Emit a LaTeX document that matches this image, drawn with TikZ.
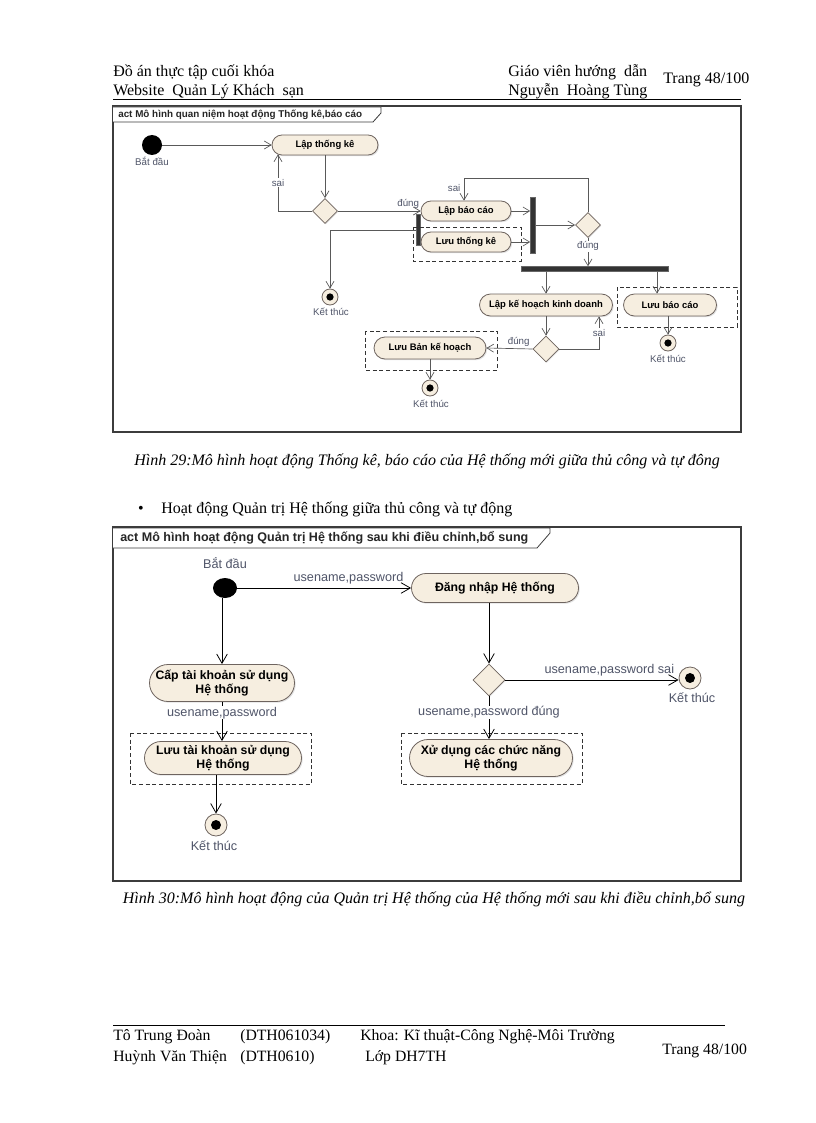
\documentclass[tikz,border=0pt]{standalone}
\usepackage{fontspec}
\setmainfont{Liberation Serif}
\newfontfamily\dfont{Liberation Sans}
\usetikzlibrary{arrows.meta,shapes.misc,shapes.geometric,shadows,calc}
\definecolor{pillfill}{RGB}{246,238,224}
\definecolor{pilldraw}{RGB}{110,100,95}
\definecolor{lblc}{RGB}{80,85,105}
\definecolor{framec}{RGB}{60,60,60}
\begin{document}
\begin{tikzpicture}[x=0.75pt,y=-0.75pt,
  hdr/.style={font=\fontsize{12}{14}\selectfont, inner sep=0pt, anchor=base west},
  ftr/.style={font=\fontsize{11.8}{14}\selectfont, inner sep=0pt, anchor=base west},
  pill/.style 2 args={rounded rectangle, draw=pilldraw, fill=pillfill, line width=0.6pt,
    minimum width=#1*0.75pt, minimum height=#2*0.75pt, inner sep=0pt, align=center,
    drop shadow={shadow xshift=0.9pt, shadow yshift=-0.9pt, fill=gray!45}},
  pa/.style={font=\dfont\bfseries\fontsize{7.1}{8.5}\selectfont},
  pb/.style={font=\dfont\bfseries\fontsize{9.2}{10.5}\selectfont},
  dec/.style={diamond, draw=pilldraw, fill=pillfill, line width=0.6pt, inner sep=0pt,
    minimum size=#1*0.75pt, drop shadow={shadow xshift=0.7pt, shadow yshift=-0.7pt, fill=gray!45}},
  startn/.style={circle, fill=black, inner sep=0pt, minimum size=#1*0.75pt},
  finaln/.style={circle, draw=pilldraw, fill=pillfill, line width=0.6pt, inner sep=0pt, minimum size=#1*0.75pt,
    path picture={\fill[black] (path picture bounding box.center) circle (#1*0.17pt);}},
  barn/.style={rectangle, fill=black!80, draw=black!60, inner sep=0pt},
  la/.style={font=\dfont\fontsize{7.3}{8}\selectfont, text=lblc, inner sep=0.5pt},
  lb/.style={font=\dfont\fontsize{9.5}{10.5}\selectfont, text=lblc, inner sep=0.5pt},
  arr/.style={draw=gray!70!black, line width=0.5pt, -{Straight Barb[length=5pt,width=6pt]}},
  arr2/.style={draw=black, line width=0.6pt, -{Straight Barb[length=7pt,width=8pt]}},
  dbox/.style={draw=black!80, dashed, line width=0.7pt, dash pattern=on 3pt off 2pt},
  frm/.style={draw=framec, line width=1.4pt},
  tab/.style={draw=framec, line width=0.6pt, fill=white}
]
\fill[white] (0,0) rectangle (816,1123);

% ---------- header ----------
\node[hdr] (h1) at (113,77) {Đồ án thực tập cuối khóa};
\node[hdr] (h2) at (113,96) {Website\ \ Quản Lý Khách\ \ sạn};
\node[hdr] (h3) at (508,77) {Giáo viên hướng\ \ dẫn};
\node[hdr] (h4) at (508,96) {Nguyễn\ \ Hoàng Tùng};
\node[hdr] (h5) at (663,84) {Trang 48/100};
\draw[line width=0.6pt] (113,99.5) -- (741,99.5);

% ---------- diagram 1 ----------
\draw[frm] (113,106) rectangle (741,432);
\draw[tab] (113,107) -- (381,107) -- (381,113) -- (373,122) -- (113,122);
\node[font=\dfont\bfseries\fontsize{7.4}{8}\selectfont, anchor=west, inner sep=0pt, text=black!85] (t1) at (118,114.5) {act Mô hình quan niệm hoạt động Thống kê,báo cáo};

\node[startn=20] (s1) at (152,145) {};
\node[la] (s1l) at (152,161) {Bắt đầu};
\node[pill={106}{20}, pa] (lt) at (325,145) {Lập thống kê};
\node[dec=25] (d1) at (325,211) {};
\node[pill={90}{20}, pa] (lbc) at (466,211) {Lập báo cáo};
\node[pill={90}{20}, pa] (ltk) at (466,242) {Lưu thống kê};
\node[barn, minimum width=4*0.75pt, minimum height=31*0.75pt] (b1) at (418,230) {};
\node[barn, minimum width=5*0.75pt, minimum height=56*0.75pt] (b2) at (533,225) {};
\node[dec=25] (d2) at (588,225) {};
\node[barn, minimum width=147*0.75pt, minimum height=5*0.75pt] (hb) at (595,269) {};
\node[finaln=16] (f1) at (330,297) {};
\node[la] (f1l) at (331,312) {Kết thúc};
\node[pill={133}{22}, pa] (lkh) at (546,305) {Lập kế hoạch kinh doanh};
\node[pill={93}{22}, pa] (lbcao) at (670,305) {Lưu báo cáo};
\node[finaln=16] (f2) at (668,343) {};
\node[la] (f2l) at (668,359) {Kết thúc};
\node[dec=26] (d3) at (546,349) {};
\node[pill={112}{22}, pa] (lbkh) at (430,348) {Lưu Bản kế hoạch};
\node[finaln=16] (f3) at (430,388) {};
\node[la] (f3l) at (431,404) {Kết thúc};

\draw[dbox] (413,227) rectangle (521,261);
\draw[dbox] (617,287) rectangle (737,327);
\draw[dbox] (365,331) rectangle (497,370);

\draw[arr] (s1) -- (lt.west);
\draw[arr] (lt.south) -- (d1.north);
\draw[arr] (d1.west) -| ($(lt.south)+(-47,-1)$) node[pos=0.75, la, fill=white] {sai};
\draw[arr] (d1.east) -- (lbc.west) node[pos=0.85, la, above=1pt] {đúng};
\draw[arr] (b1.west) -| (f1.north);
\draw[arr] (lbc.east) -- (lbc.east -| b2.west);
\draw[arr] (ltk.east) -- (ltk.east -| b2.west);
\draw[arr] (b2.east) -- (d2.west);
\draw[arr] (d2.north) |- ($(lbc.north)+(-2,-22)$) -- ($(lbc.north)+(-2,0)$) node[pos=0.45, la, left=2pt] {sai};
\draw[arr] (d2.south) -- (d2.south |- hb.north) node[pos=0.3, la, fill=white] {đúng};
\draw[arr] (hb.south -| lkh.north) -- (lkh.north);
\draw[arr] ($(hb.south -| lbcao.north)+(-13,0)$) -- ($(lbcao.north)+(-13,0)$);
\draw[arr] (lbcao.south -| f2.north) -- (f2.north);
\draw[arr] (lkh.south) -- (d3.north);
\draw[arr] (d3.east) -| ($(lkh.south)+(53,0)$) node[pos=0.75, la, fill=white] {sai};
\draw[arr] (d3.west) -- (lbkh.east) node[pos=0.3, la, above=1pt] {đúng};
\draw[arr] (lbkh.south) -- (f3.north);

% ---------- caption 1 & bullet ----------
\node[font=\itshape\fontsize{12}{14}\selectfont, inner sep=0pt, anchor=base] (c1) at (427,465) {Hình 29:Mô hình hoạt động Thống kê, báo cáo của Hệ thống mới giữa thủ công và tự đông};
\node[font=\fontsize{12}{14}\selectfont, inner sep=0pt, anchor=base] (bul) at (141,513) {\textbullet};
\node[hdr] (btxt) at (161,513) {Hoạt động Quản trị Hệ thống giữa thủ công và tự động};

% ---------- diagram 2 ----------
\draw[frm] (113,527) rectangle (741,881);
\draw[tab] (113,528) -- (550,528) -- (550,533) -- (537,548) -- (113,548);
\node[font=\dfont\bfseries\fontsize{9.4}{10}\selectfont, anchor=west, inner sep=0pt, text=black!85] (t2) at (120,538) {act Mô hình hoạt động Quản trị Hệ thống sau khi điều chỉnh,bổ sung};

\node[lb] (s2l) at (225,563) {Bắt đầu};
\node[ellipse, fill=black, inner sep=0pt, minimum width=24*0.75pt, minimum height=20*0.75pt] (s2) at (225,588) {};
\node[pill={167}{29}, pb] (dn) at (495,588) {Đăng nhập Hệ thống};
\node[pill={145}{37}, pb] (cap) at (222,683) {Cấp tài khoản sử dụng\\Hệ thống};
\node[pill={157}{33}, pb] (luu) at (223,758) {Lưu tài khoản sử dụng\\Hệ thống};
\node[finaln=22] (f4) at (216,825) {};
\node[lb] (f4l) at (214,846) {Kết thúc};
\node[dec=32] (d4) at (489,680) {};
\node[finaln=22] (f5) at (690,678) {};
\node[lb] (f5l) at (692,698) {Kết thúc};
\node[pill={163}{37}, pb] (xu) at (491,758) {Xử dụng các chức năng\\Hệ thống};

\draw[dbox] (130,733) rectangle (311,784);
\draw[dbox] (401,733) rectangle (582,784);

\draw[arr2] (s2.east) -- (dn.west) node[pos=0.64, lb, above=2pt] {usename,password};
\draw[arr2] (s2.south -| cap.north) -- (cap.north);
\draw[arr2] (cap.south) -- (cap.south |- luu.north) node[pos=0.28, lb, fill=white] {usename,password};
\draw[arr2] (luu.south -| f4.north) -- (f4.north);
\draw[arr2] (dn.south -| d4.north) -- (d4.north);
\draw[arr2] (d4.east) -- (d4.east -| f5.west) node[pos=0.6, lb, above=2pt] {usename,password sai};
\draw[arr2] (d4.south) -- (d4.south |- xu.north) node[pos=0.38, lb, fill=white] {usename,password đúng};

% ---------- caption 2 ----------
\node[font=\itshape\fontsize{12}{14}\selectfont, inner sep=0pt, anchor=base] (c2) at (434,903) {Hình 30:Mô hình hoạt động của Quản trị Hệ thống của Hệ thống mới sau khi điều chỉnh,bổ sung};

% ---------- footer ----------
\draw[line width=0.6pt] (113,1025) -- (725,1025);
\node[ftr] (ft1) at (113,1040) {Tô Trung Đoàn};
\node[ftr] (ft2) at (240,1040) {(DTH061034)};
\node[ftr] (ft3) at (360,1040) {Khoa: Kĩ thuật-Công Nghệ-Môi Trường};
\node[ftr] (ft4) at (113,1061) {Huỳnh Văn Thiện};
\node[ftr] (ft5) at (240,1061) {(DTH0610)};
\node[ftr] (ft6) at (365,1061) {Lớp DH7TH};
\node[ftr] (ft7) at (662,1054) {Trang 48/100};
\end{tikzpicture}
\end{document}
